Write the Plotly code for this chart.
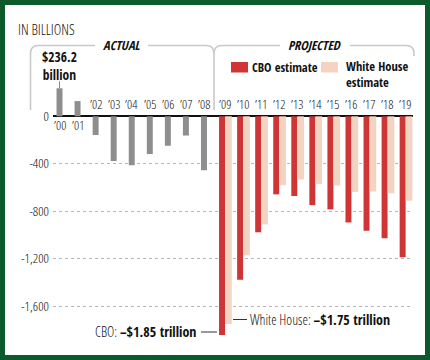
import plotly.graph_objects as go

# ---- data ----
year_labels = ["’00", "’01", "’02", "’03", "’04", "’05", "’06", "’07", "’08", "’09",
               "’10", "’11", "’12", "’13", "’14", "’15", "’16", "’17", "’18", "’19"]
actual = [236.2, 128.2, -157.8, -377.6, -412.7, -318.3, -248.2, -162.0, -454.8]
cbo = [-1845, -1379, -978, -658, -672, -749, -785, -895, -965, -1028, -1189]
white_house = [-1752, -1171, -912, -581, -533, -570, -583, -637, -634, -649, -712]
y_ticks = [0, -400, -800, -1200, -1600]
y_tick_text = ["0", "-400", "-800", "-1,200", "-1,600"]

W, H = 430, 360
BOLD = "Open Sans Condensed, Liberation Sans Narrow, sans-serif"
REG = "Open Sans Condensed Light, Liberation Sans Narrow, sans-serif"
GREEN = "#0c5a2c"
GREY_BAR = "#8e8e8e"
RED = "#cf3535"
PEACH = "#f3d4c2"
BRACKET = "#c9c9c9"
INK = "#111"


def fx(px):
    return px / W


def fy(py):
    return 1 - py / H


n_act = len(actual)
x_act = list(range(n_act))
x_proj = [n_act + i for i in range(len(cbo))]
x_wh = [x + 0.355 for x in x_proj]

fig = go.Figure()
fig.add_bar(x=x_act, y=actual, width=0.33, marker=dict(color=GREY_BAR, line_width=0),
            name="Actual", hoverinfo="y")
fig.add_bar(x=x_proj, y=cbo, width=0.33, marker=dict(color=RED, line_width=0),
            name="CBO estimate", hoverinfo="y")
fig.add_bar(x=x_wh, y=white_house, width=0.37, marker=dict(color=PEACH, line_width=0),
            name="White House estimate", hoverinfo="y")

px_per_unit = 0.1186
zero_py = 116.3
top_py, bot_py = 60, 340
ymax = (zero_py - top_py) / px_per_unit
ymin = ymax - (bot_py - top_py) / px_per_unit
x_left_px, x_right_px = 53, 413
x0_px, step_px = 59.5, 18.06

fig.update_layout(
    width=W, height=H,
    margin=dict(l=0, r=0, t=0, b=0),
    paper_bgcolor=GREEN,
    plot_bgcolor="rgba(0,0,0,0)",
    barmode="overlay",
    showlegend=False,
    font=dict(family=REG, size=12, color=INK),
    xaxis=dict(domain=[fx(x_left_px), fx(x_right_px)],
               range=[(x_left_px - x0_px) / step_px, (x_right_px - x0_px) / step_px],
               showticklabels=False, showgrid=False, zeroline=False, showline=False),
    yaxis=dict(domain=[fy(bot_py), fy(top_py)], range=[ymin, ymax],
               tickvals=y_ticks, ticktext=y_tick_text,
               tickfont=dict(family=REG, size=13.5, color=INK),
               showgrid=True, gridcolor="#b5b5b5", gridwidth=1, griddash="3px,3px",
               zeroline=True, zerolinecolor="#111", zerolinewidth=2,
               showline=False, ticks="", ticklabelstandoff=3, automargin=False),
)

shapes = []
# white card inside green frame
shapes.append(dict(type="rect", xref="paper", yref="paper", layer="below",
                   x0=fx(5), x1=fx(425), y0=fy(355), y1=fy(5),
                   fillcolor="white", line_width=0))

# brackets
r = 8
top = 45.5
p_act_left = (f"M {fx(95)},{fy(top)} L {fx(30.5 + r)},{fy(top)} "
              f"Q {fx(30.5)},{fy(top)} {fx(30.5)},{fy(top + r)} L {fx(30.5)},{fy(110)}")
p_act_right = (f"M {fx(148)},{fy(top)} L {fx(214 - r)},{fy(top)} "
               f"Q {fx(214)},{fy(top)} {fx(214)},{fy(top + r)} L {fx(214)},{fy(110)}")
p_proj_left = (f"M {fx(214)},{fy(top + r)} Q {fx(214)},{fy(top)} {fx(214 + r)},{fy(top)} "
               f"L {fx(280)},{fy(top)}")
p_proj_right = (f"M {fx(350)},{fy(top)} L {fx(414 - r)},{fy(top)} "
                f"Q {fx(414)},{fy(top)} {fx(414)},{fy(top + r)} L {fx(414)},{fy(56)}")
for p in [p_act_left, p_act_right, p_proj_left, p_proj_right]:
    shapes.append(dict(type="path", xref="paper", yref="paper", path=p,
                       line=dict(color=BRACKET, width=1.6)))

# legend swatches
shapes.append(dict(type="rect", xref="paper", yref="paper", x0=fx(231), x1=fx(248),
                   y0=fy(72.5), y1=fy(62), fillcolor=RED, line_width=0))
shapes.append(dict(type="rect", xref="paper", yref="paper", x0=fx(321), x1=fx(338),
                   y0=fy(72.5), y1=fy(62), fillcolor=PEACH, line_width=0))

# leader for $236.2 billion
lead = 7 / px_per_unit
shapes.append(dict(type="line", xref="x", yref="y", x0=0, x1=0,
                   y0=actual[0], y1=actual[0] + lead, line=dict(color="#888", width=1)))
# leaders for bottom labels
shapes.append(dict(type="line", xref="paper", yref="paper", x0=fx(201), x1=fx(217),
                   y0=fy(332), y1=fy(332), line=dict(color="#333", width=1)))
shapes.append(dict(type="line", xref="paper", yref="paper", x0=fx(233), x1=fx(247),
                   y0=fy(319.5), y1=fy(319.5), line=dict(color="#333", width=1)))

bold_span = '<span style="font-family:Open Sans Condensed">{}</span>'

annotations = []
annotations.append(dict(text="IN BILLIONS", xref="paper", yref="paper", x=fx(16), y=fy(29),
                        xanchor="left", yanchor="middle", showarrow=False,
                        font=dict(size=14.5, color=INK, family=REG)))
annotations.append(dict(text="<i>ACTUAL</i>", xref="paper", yref="paper",
                        x=fx(121.5), y=fy(45.5), xanchor="center", yanchor="middle",
                        showarrow=False, font=dict(size=12.5, color=INK, family=BOLD)))
annotations.append(dict(text="<i>PROJECTED</i>", xref="paper", yref="paper",
                        x=fx(315), y=fy(45.5), xanchor="center", yanchor="middle",
                        showarrow=False, font=dict(size=12.5, color=INK, family=BOLD)))
annotations.append(dict(text="CBO estimate", xref="paper", yref="paper",
                        x=fx(250), y=fy(67.5), xanchor="left", yanchor="middle",
                        showarrow=False, font=dict(size=12.5, color=INK, family=BOLD)))
annotations.append(dict(text="White House<br>estimate", xref="paper", yref="paper",
                        x=fx(344), y=fy(74.5), xanchor="left", yanchor="middle", align="left",
                        showarrow=False, font=dict(size=12.5, color=INK, family=BOLD)))
annotations.append(dict(text="$236.2<br>billion", xref="x", yref="y",
                        x=0, y=actual[0] + lead, yshift=-5, xanchor="center", yanchor="bottom",
                        showarrow=False, font=dict(size=13.5, color=INK, family=BOLD)))
annotations.append(dict(text="CBO: " + bold_span.format("–$1.85 trillion"),
                        xref="paper", yref="paper",
                        x=fx(198), y=fy(331.5), xanchor="right", yanchor="middle",
                        showarrow=False, font=dict(size=14, color=INK, family=REG)))
annotations.append(dict(text="White House: " + bold_span.format("–$1.75 trillion"),
                        xref="paper", yref="paper",
                        x=fx(248), y=fy(319), xanchor="left", yanchor="middle",
                        showarrow=False, font=dict(size=14, color=INK, family=REG)))

# year labels
for i, lab in enumerate(year_labels):
    if i < n_act:
        xv = i
        val = actual[i]
    else:
        xv = i + 0.15
        val = cbo[i - n_act]
    yv = fy(124.5) if val > 0 else fy(104)
    annotations.append(dict(text=lab, xref="x", yref="paper", x=xv, y=yv,
                            xanchor="center", yanchor="middle", showarrow=False,
                            font=dict(size=13, color=INK, family=REG)))

fig.update_layout(shapes=shapes, annotations=annotations)
fig.write_html("out.html", post_script="document.body.style.margin='0';",
               config={"displayModeBar": False})
